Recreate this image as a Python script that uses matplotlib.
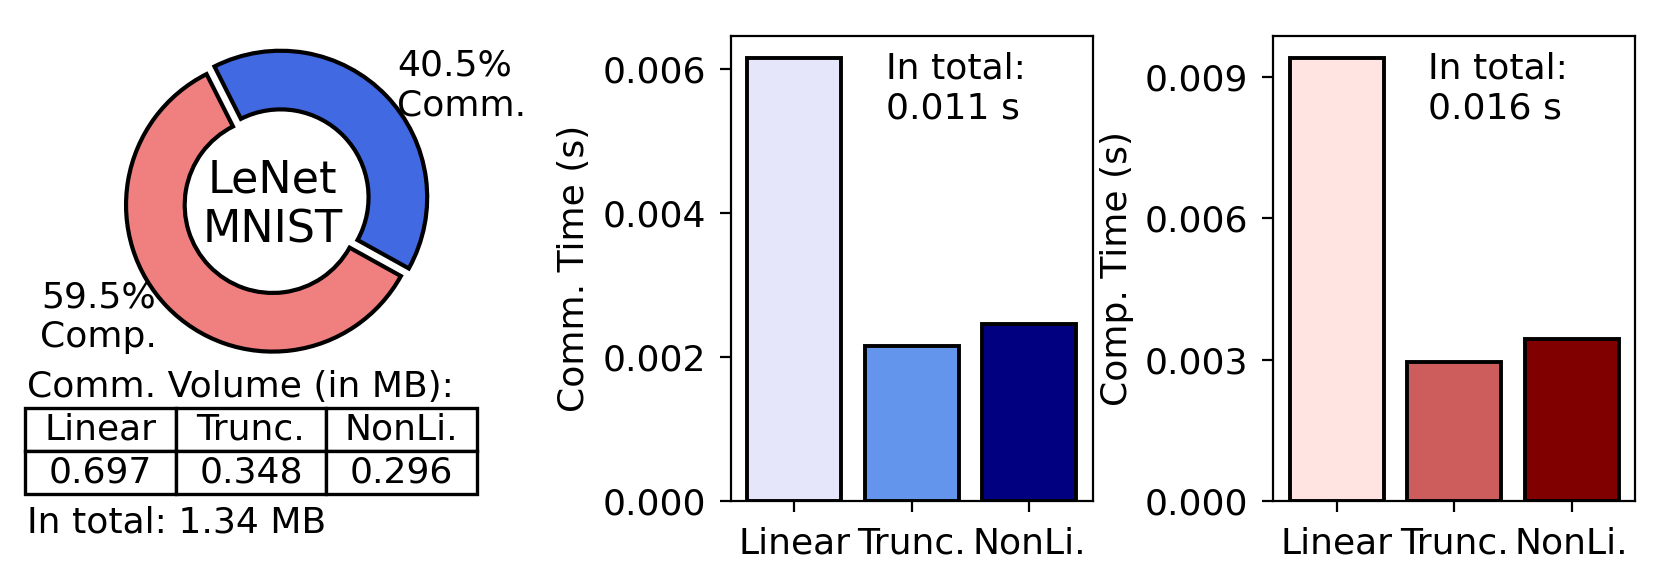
import matplotlib
matplotlib.use("Agg")
import matplotlib.pyplot as plt
from matplotlib.ticker import FormatStrFormatter

plt.rcParams['font.size'] = 13

# data
methods = ["Linear", "Trunc.", "NonLi."]
comm_time = [0.00615, 0.00215, 0.00245]
comp_time = [0.00941, 0.00295, 0.00343]
comm_volume = ["0.697", "0.348", "0.296"]
pie_shares = [40.5, 59.5]
pie_labels = ["40.5%\nComm.", "59.5%\nComp."]
comm_total = "0.011 s"
comp_total = "0.016 s"
volume_total = "1.34 MB"

comm_colors = ["lavender", "cornflowerblue", "navy"]
comp_colors = ["mistyrose", "indianred", "maroon"]

fig = plt.figure(figsize=(8.305, 2.935), dpi=200)

# donut: comm vs comp share
ax_pie = fig.add_axes([0.0538, 0.3386, 0.2207, 0.6244])
ax_pie.pie(pie_shares, labels=pie_labels, colors=["royalblue", "lightcoral"],
           startangle=-29, explode=[0.075, 0],
           wedgeprops=dict(width=0.4, edgecolor="black", linewidth=1.5),
           textprops=dict(fontsize=13))
ax_pie.text(0, 0, "LeNet\nMNIST", ha="center", va="center", fontsize=16)

# volume table
fig.text(0.0163, 0.3407, "Comm. Volume (in MB):", va="center")
ax_tab = fig.add_axes([0.01505, 0.1584, 0.2721, 0.1465])
ax_tab.axis("off")
tab = ax_tab.table(cellText=[methods, comm_volume], cellLoc="center", bbox=[0, 0, 1, 1])
tab.auto_set_font_size(False)
tab.set_fontsize(13)
for cell in tab.get_celld().values():
    cell.set_linewidth(1.2)
fig.text(0.0163, 0.1107, "In total: " + volume_total, va="center")

# bar panels
def bar_panel(rect, values, colors, ylabel, ticks, total):
    ax = fig.add_axes(rect)
    ax.bar(methods, values, width=0.8, color=colors, edgecolor="black", linewidth=1.4)
    ax.set_yticks(ticks)
    ax.yaxis.set_major_formatter(FormatStrFormatter("%.3f"))
    ax.set_ylabel(ylabel)
    ax.tick_params(length=4, pad=5)
    ax.text(0.428, 0.965, "In total:\n" + total, transform=ax.transAxes,
            ha="left", va="top")
    return ax

bar_panel([0.4399, 0.1465, 0.2179, 0.7927], comm_time, comm_colors,
          "Comm. Time (s)", [0, 0.002, 0.004, 0.006], comm_total)
bar_panel([0.7666, 0.1465, 0.2178, 0.7927], comp_time, comp_colors,
          "Comp. Time (s)", [0, 0.003, 0.006, 0.009], comp_total)

fig.savefig("out.png", dpi=200)
